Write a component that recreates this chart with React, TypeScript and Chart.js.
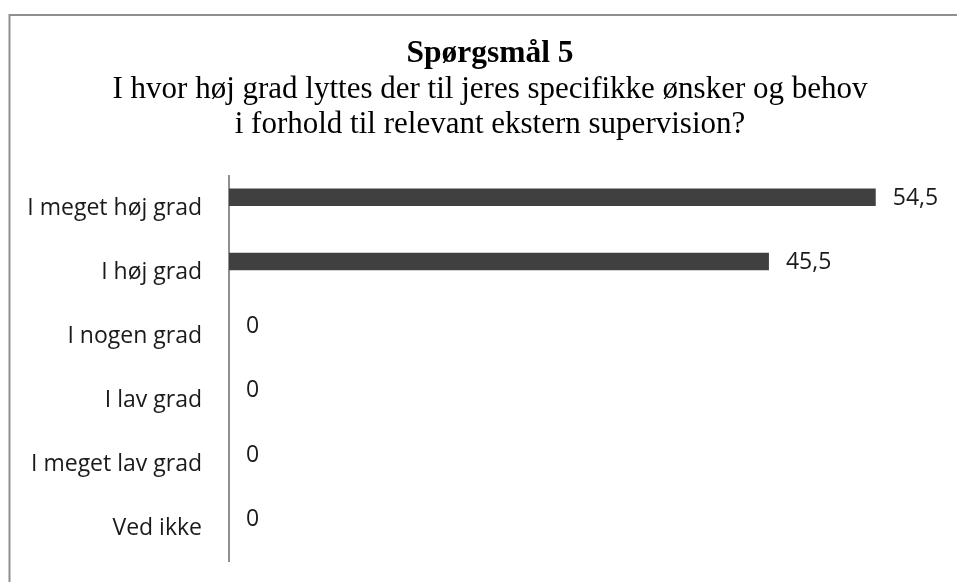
import React, { useEffect, useRef } from "react";
import { Chart, registerables } from "chart.js";

Chart.register(...registerables);

const titleText = "Spørgsmål 5";
const subtitleLines = [
  "I hvor høj grad lyttes der til jeres specifikke ønsker og behov",
  "i forhold til relevant ekstern supervision?",
];
const categories = [
  "I meget høj grad",
  "I høj grad",
  "I nogen grad",
  "I lav grad",
  "I meget lav grad",
  "Ved ikke",
];
const values = [54.5, 45.5, 0, 0, 0, 0];
const emptySeries: (number | null)[] = [null, null, null, null, null, null];
const axisMax = 60;

const LABEL_FONT = "'Open Sans', sans-serif";
const SERIF_FONT = "'Liberation Serif', 'DejaVu Serif', serif";

const framePlugin = {
  id: "frameAndTitles",
  beforeDraw(chart: any) {
    const ctx = chart.ctx;
    ctx.save();
    ctx.fillStyle = "#ffffff";
    ctx.fillRect(0, 0, chart.width, chart.height);
    ctx.strokeStyle = "#8f8f8f";
    ctx.lineWidth = 2;
    ctx.strokeRect(9.5, 15, 2000, 2000);
    ctx.fillStyle = "#000000";
    ctx.textAlign = "center";
    ctx.textBaseline = "alphabetic";
    ctx.font = `bold 31.5px ${SERIF_FONT}`;
    ctx.fillText(titleText, 490, 62);
    ctx.font = `31px ${SERIF_FONT}`;
    ctx.fillText(subtitleLines[0], 490, 98);
    ctx.fillText(subtitleLines[1], 490, 133);
    ctx.restore();
  },
};

const valueLabelPlugin = {
  id: "valueLabels",
  afterDatasetsDraw(chart: any) {
    const ctx = chart.ctx;
    const meta = chart.getDatasetMeta(0);
    ctx.save();
    ctx.font = `23px ${LABEL_FONT}`;
    ctx.fillStyle = "#1a1a1a";
    ctx.textAlign = "left";
    ctx.textBaseline = "middle";
    meta.data.forEach((el: any, i: number) => {
      const v = values[i];
      const txt = String(v).replace(".", ",");
      ctx.fillText(txt, el.x + 17, el.y + 1);
    });
    ctx.restore();
  },
};

export default function App() {
  const ref = useRef<HTMLCanvasElement | null>(null);

  useEffect(() => {
    if (!ref.current) return;
    const chart = new Chart(ref.current, {
      type: "bar",
      data: {
        labels: categories,
        datasets: [
          {
            data: values,
            backgroundColor: "#404040",
            categoryPercentage: 0.673,
            barPercentage: 0.805,
          },
          {
            data: emptySeries as any,
            backgroundColor: "#404040",
            categoryPercentage: 0.673,
            barPercentage: 0.805,
          },
        ],
      },
      options: {
        indexAxis: "y",
        responsive: false,
        animation: false,
        devicePixelRatio: 1,
        layout: { padding: { top: 176, bottom: 21, left: 0, right: 16 } },
        plugins: {
          legend: { display: false },
          tooltip: { enabled: false },
          title: { display: false },
        },
        scales: {
          x: { display: false, min: 0, max: axisMax },
          y: {
            grid: { display: false, drawTicks: false },
            border: { display: true, color: "#8f8f8f", width: 2 },
            ticks: {
              padding: 27,
              color: "#1a1a1a",
              font: { family: LABEL_FONT, size: 23 },
            },
            afterFit(scale: any) {
              scale.width = 229;
              scale.paddingTop = 0;
              scale.paddingBottom = 0;
              scale.paddingLeft = 0;
              scale.paddingRight = 0;
            },
          },
        },
      } as any,
      plugins: [framePlugin, valueLabelPlugin],
    });
    return () => chart.destroy();
  }, []);

  return (
    <div style={{ position: "fixed", left: 0, top: 0, width: 957, height: 582, overflow: "hidden", background: "#fff" }}>
      <canvas ref={ref} width={957} height={582} style={{ width: 957, height: 582, display: "block" }} />
    </div>
  );
}
